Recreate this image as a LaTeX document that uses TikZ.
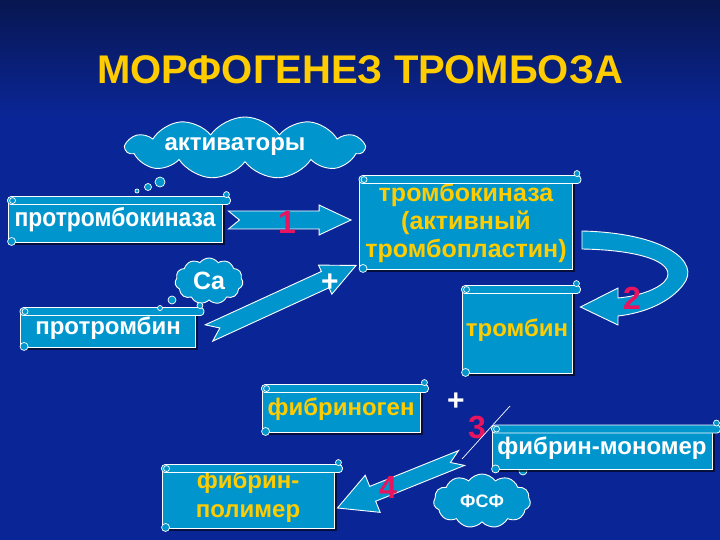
\documentclass[tikz,border=0pt]{standalone}
\usepackage{fontspec}
\setmainfont{Liberation Sans}
\newfontfamily\condfont[FakeStretch=0.88]{Liberation Sans}
\usetikzlibrary{shapes.symbols,calc,shadows}
\definecolor{bg}{RGB}{10,38,150}
\definecolor{bgtop}{RGB}{8,22,80}
\definecolor{cy}{RGB}{0,150,205}
\definecolor{ylw}{RGB}{255,204,0}
\definecolor{pnk}{RGB}{232,20,95}
\newcommand\blockarrow[6]{%
  \coordinate (bh) at ($(#2)!#5!(#1)$);
  \filldraw[barrow] ($(#1)!#3!90:(#2)$) -- ($(bh)!#3!90:(#2)$) -- ($(bh)!#4!90:(#2)$) -- (#2)
    -- ($(bh)!#4!-90:(#2)$) -- ($(bh)!#3!-90:(#2)$) -- ($(#1)!#3!-90:(#2)$) -- ($(#1)!#6!(#2)$) -- cycle;}
\newcommand\scrolldeco[1]{%
  \filldraw[scrollpart,rounded corners=3.5pt] ([yshift=1pt]#1.north west) -- ([xshift=8pt,yshift=1pt]#1.north east)
    -- ([xshift=8pt,yshift=-7pt]#1.north east) -- ([yshift=-7pt]#1.north west) -- cycle;
  \draw[scrollcurl] ([xshift=5pt,yshift=-3pt]#1.north west) circle (3pt);
  \draw[scrollcurl] ([xshift=4pt,yshift=1pt]#1.south west) circle (4pt);
  \draw[scrollcurl] ([xshift=4pt,yshift=3pt]#1.north east) circle (3pt);}
\begin{document}
\begin{tikzpicture}[x=1pt,y=-1pt,
  scrollbox/.style={draw=white, line width=0.9pt, fill=cy, inner sep=2pt, align=center,
    font=\fontsize{24}{25}\selectfont\bfseries,
    drop shadow={shadow xshift=2.5pt,shadow yshift=-2.5pt,opacity=.6,fill=black}},
  scrollpart/.style={draw=white, line width=0.8pt, fill=cy},
  scrollcurl/.style={draw=white, line width=0.7pt, fill=cy},
  cloudbox/.style={cloud, cloud puffs=11, cloud puff arc=110, cloud ignores aspect, draw=white, line width=0.9pt,
    fill=cy, inner sep=0pt, text=white, font=\fontsize{25}{27}\selectfont\bfseries},
  bubble/.style={draw=white, line width=0.7pt, fill=cy},
  barrow/.style={draw=white, line width=0.9pt, fill=cy},
  num/.style={text=pnk, font=\fontsize{32}{34}\selectfont\bfseries},
  plus/.style={text=white, font=\fontsize{30}{32}\selectfont\bfseries}]
\fill[bg] (0,0) rectangle (720,540);
\shade[top color=bgtop,bottom color=bg] (0,0) rectangle (720,115);
\useasboundingbox (0,0) rectangle (720,540);

\node[text=ylw, font=\fontsize{40}{44}\selectfont\bfseries] (title) at (360,70) {МОРФОГЕНЕЗ ТРОМБОЗА};

% clouds
\node[cloudbox, minimum width=238pt, minimum height=62pt] (act) at (245,148) {};
\node[text=white, font=\fontsize{24}{26}\selectfont\bfseries] (actt) at (235,147) {активаторы};
\draw[bubble] (160,182) circle (5pt) (148,187) circle (3.5pt) (137,191) circle (2pt);

\node[cloudbox, minimum width=68pt, minimum height=46pt] (ca) at (209,281) {Ca};

\node[cloudbox, minimum width=97pt, minimum height=54pt, font=\fontsize{18}{20}\selectfont\bfseries] (fsf) at (482,501) {ФСФ};
\draw[bubble] (523,471) circle (4pt) (536,461) circle (3pt);

% scroll boxes
\node[scrollbox, minimum width=214pt, minimum height=44pt, text=white, font=\condfont\fontsize{26}{27}\selectfont\bfseries] (prtk) at (115,220) {протромбокиназа};
\scrolldeco{prtk}
\node[scrollbox, minimum width=175pt, minimum height=38pt, text=white] (prt) at (108,328) {протромбин};
\scrolldeco{prt}
\draw[bubble] (172,300) circle (4pt) (160,308) circle (2.5pt);
\node[scrollbox, minimum width=213pt, minimum height=92pt, text=ylw, font=\fontsize{25}{28}\selectfont\bfseries] (tk) at (466,223) {тромбокиназа\\(активный\\тромбопластин)};
\scrolldeco{tk}
\node[scrollbox, minimum width=110pt, minimum height=86pt, text=ylw] (tm) at (517,330) {тромбин};
\scrolldeco{tm}
\node[scrollbox, minimum width=158pt, minimum height=46pt, text=ylw] (fg) at (341,409) {фибриноген};
\scrolldeco{fg}
\node[scrollbox, minimum width=220pt, minimum height=43pt, text=white] (fm) at (602,448) {фибрин-мономер};
\scrolldeco{fm}
\node[scrollbox, minimum width=172pt, minimum height=62pt, text=ylw, font=\fontsize{24}{29}\selectfont\bfseries] (fp) at (248,497) {фибрин-\\полимер};
\scrolldeco{fp}

% arrow 1
\coordinate (a1s) at ([xshift=6pt]prtk.east);
\coordinate (a1e) at ([xshift=-8pt,yshift=3pt]tk.west);
\blockarrow{a1s}{a1e}{9pt}{15pt}{32pt}{11pt}
\node[num] (n1) at (287,222) {1};

% arrow protrombin -> trombokinaza
\coordinate (a0s) at ([xshift=13pt,yshift=-5pt]prt.east);
\coordinate (a0e) at ([xshift=-3pt,yshift=4pt]tk.south west);
\blockarrow{a0s}{a0e}{9pt}{16pt}{34pt}{12pt}
\node[plus] (p1) at (330,283) {+};

% arrow 2 (curved)
\coordinate (a2s) at ([xshift=9pt,yshift=-17pt]tk.east);
\coordinate (a2e) at ([xshift=8pt,yshift=23pt]tm.east);
\filldraw[barrow] ($(a2s)+(0,-9)$) .. controls (665,233) and (702,262) .. (683,285)
  .. controls (670,302) and (645,313) .. (618,316) -- (618,325) -- (a2e) -- (618,288) -- (618,298)
  .. controls (640,296) and (662,288) .. (667,278) .. controls (674,262) and (640,250) .. ($(a2s)+(0,9)$) -- cycle;
\node[num] (n2) at (632,298) {2};

% fibrinogen + , 3
\node[plus] (p2) at (456,402) {+};
\node[num] (n3) at (477,428) {3};
\coordinate (l3a) at (510,406);
\coordinate (l3b) at (462,459);
\draw[white, line width=0.7pt] (l3a) -- (l3b);

% arrow 4
\coordinate (a4s) at ([xshift=-30pt,yshift=-10pt]fm.west);
\coordinate (a4e) at ([xshift=3pt,yshift=-11pt]fp.east);
\blockarrow{a4s}{a4e}{8pt}{20pt}{38pt}{12pt}
\node[num] (n4) at (388,487) {4};
\end{tikzpicture}
\end{document}
